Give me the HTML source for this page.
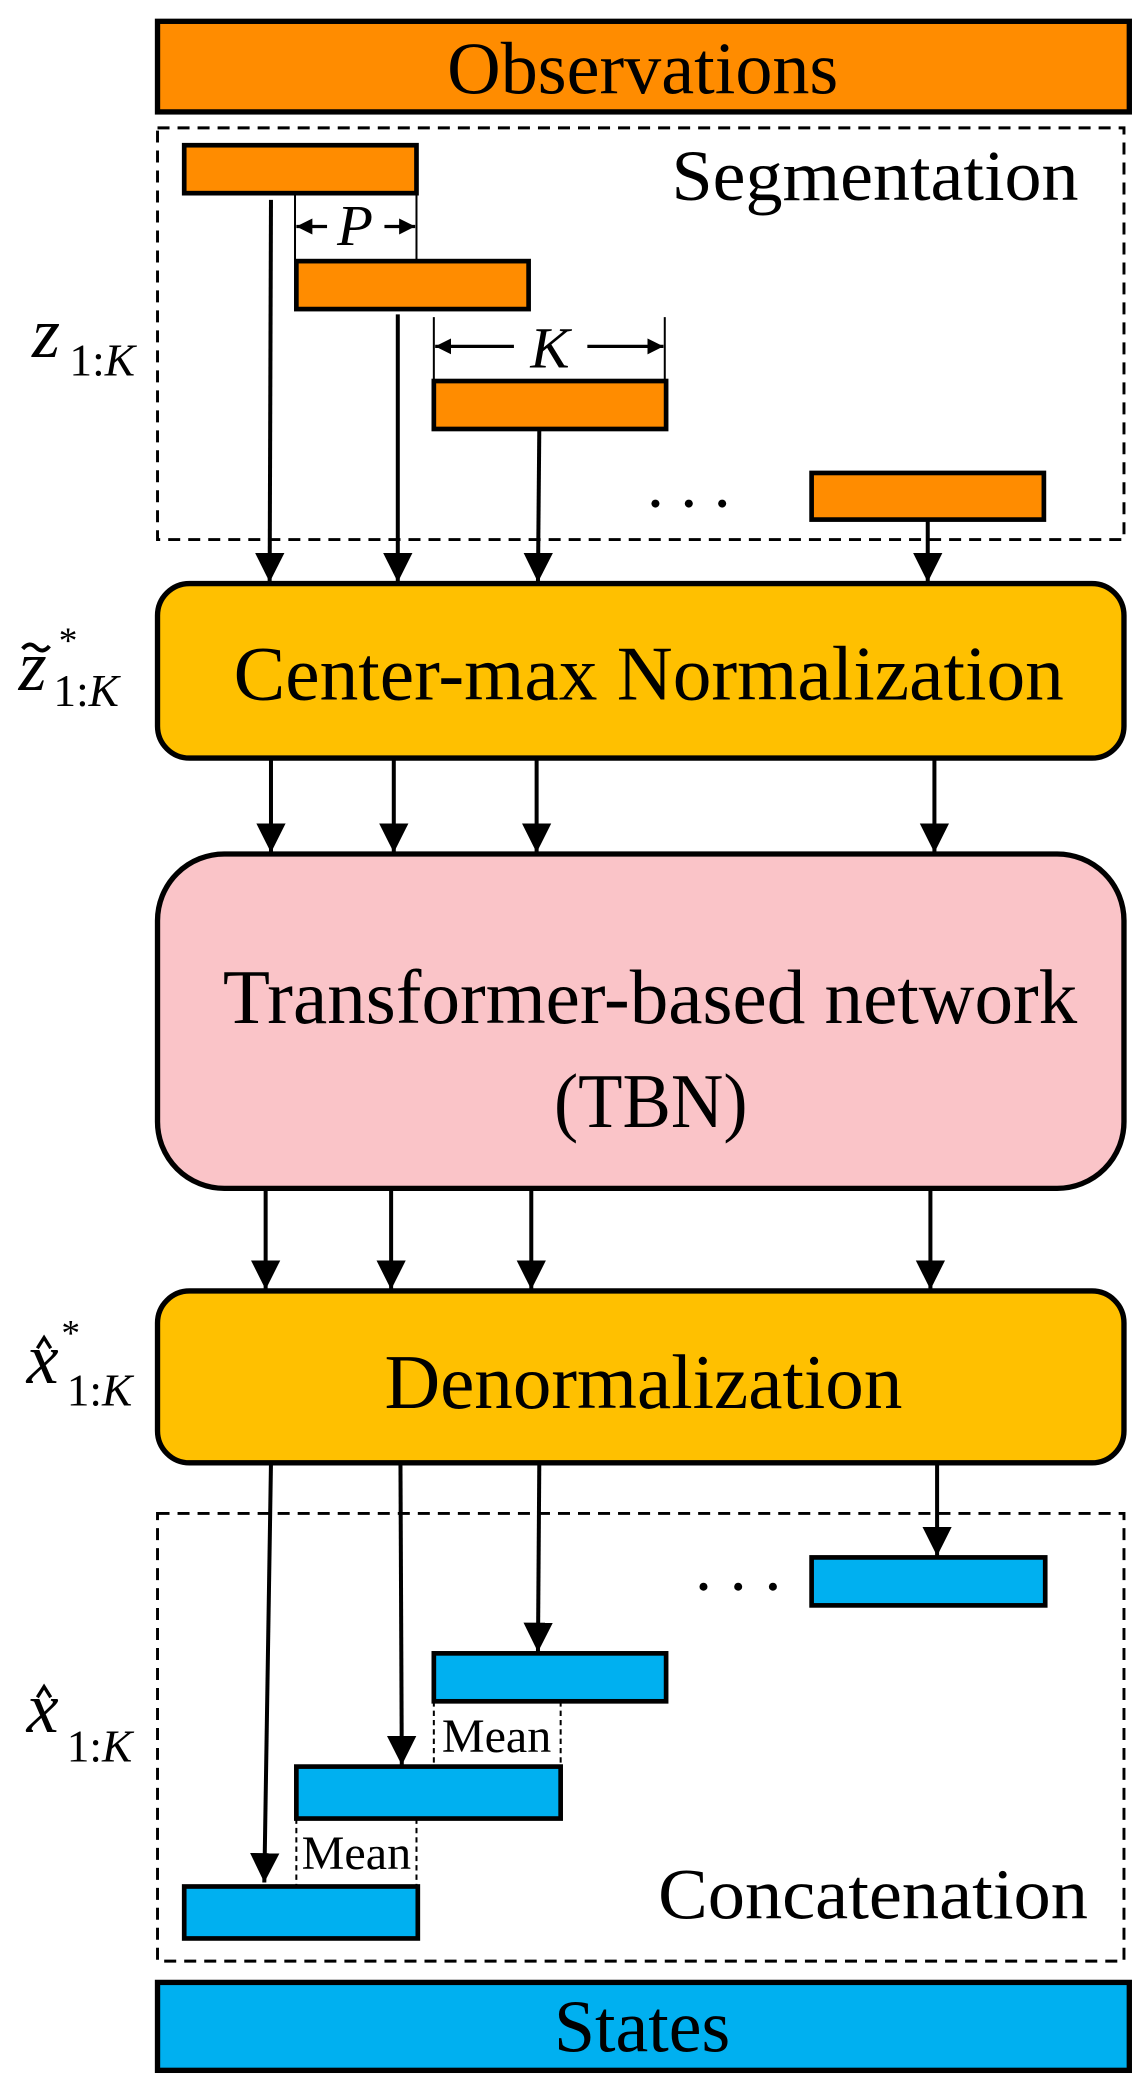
<!DOCTYPE html>
<html><head><meta charset="utf-8"><style>html,body{margin:0;padding:0;background:#fff}svg{display:block}</style></head>
<body>
<svg width="1148" height="2089" viewBox="0 0 860 1568" preserveAspectRatio="none" xmlns="http://www.w3.org/2000/svg" font-family="Liberation Serif, serif">
<defs>
<marker id="a" viewBox="0 0 10 10" refX="10" refY="5" markerWidth="12" markerHeight="12" orient="auto" markerUnits="userSpaceOnUse"><path d="M0,0 L10,5 L0,10 z" fill="#000"/></marker>
<marker id="b" viewBox="0 0 10 10" refX="10" refY="5" markerWidth="22" markerHeight="22" orient="auto" markerUnits="userSpaceOnUse"><path d="M0,0 L10,5 L0,10 z" fill="#000"/></marker>
</defs>
<!-- Observations -->
<rect x="118" y="16" width="728" height="68" fill="#FF8C00" stroke="#000" stroke-width="4"/>
<text x="335" y="70" font-size="56" textLength="293" lengthAdjust="spacingAndGlyphs">Observations</text>
<!-- Segmentation box -->
<rect x="118" y="96" width="724" height="309" fill="none" stroke="#000" stroke-width="2.2" stroke-dasharray="9,6"/>
<text x="503" y="150" font-size="54" textLength="305" lengthAdjust="spacingAndGlyphs">Segmentation</text>
<g fill="#FF8C00" stroke="#000" stroke-width="3.5">
<rect x="138" y="109" width="174" height="36"/>
<rect x="222" y="196" width="174" height="36"/>
<rect x="325" y="286" width="174" height="36"/>
<rect x="608" y="355" width="174" height="35"/>
</g>
<!-- P dim -->
<g stroke="#000" stroke-width="1.5"><line x1="221" y1="145" x2="221" y2="196"/><line x1="312" y1="145" x2="312" y2="196"/></g>
<line x1="245" y1="170" x2="222" y2="170" stroke="#000" stroke-width="2.5" marker-end="url(#a)"/>
<line x1="288" y1="170" x2="311" y2="170" stroke="#000" stroke-width="2.5" marker-end="url(#a)"/>
<text x="266" y="184" font-size="44" font-style="italic" text-anchor="middle">P</text>
<!-- K dim -->
<g stroke="#000" stroke-width="1.5"><line x1="325" y1="238" x2="325" y2="286"/><line x1="498" y1="238" x2="498" y2="286"/></g>
<line x1="385" y1="260" x2="326" y2="260" stroke="#000" stroke-width="2.5" marker-end="url(#a)"/>
<line x1="440" y1="260" x2="497" y2="260" stroke="#000" stroke-width="2.5" marker-end="url(#a)"/>
<text x="412" y="276" font-size="44" font-style="italic" text-anchor="middle">K</text>
<g fill="#000"><circle cx="491" cy="378" r="3"/><circle cx="516" cy="378" r="3"/><circle cx="541" cy="378" r="3"/></g>
<!-- arrows into CMN -->
<g stroke="#000" stroke-width="3" marker-end="url(#b)">
<line x1="203" y1="150" x2="202" y2="437"/>
<line x1="298" y1="236" x2="298" y2="437"/>
<line x1="404" y1="322" x2="403" y2="437"/>
<line x1="695" y1="390" x2="695" y2="437"/>
</g>
<text x="24" y="268" font-size="54" font-style="italic">z</text>
<text x="52" y="282" font-size="34">1:<tspan font-style="italic">K</tspan></text>
<!-- CMN -->
<rect x="118" y="438" width="724" height="131" rx="24" fill="#FFC000" stroke="#000" stroke-width="4"/>
<text x="175" y="525" font-size="58" textLength="622" lengthAdjust="spacingAndGlyphs">Center-max Normalization</text>
<text x="14" y="518" font-size="54" font-style="italic">z</text>
<path d="M17,487 q5,-6 10,-1 q5,5 10,-1" fill="none" stroke="#000" stroke-width="3"/>
<text x="44" y="490" font-size="28">*</text>
<text x="40" y="530" font-size="34">1:<tspan font-style="italic">K</tspan></text>
<g stroke="#000" stroke-width="3" marker-end="url(#b)">
<line x1="203" y1="569" x2="203" y2="640"/>
<line x1="295" y1="569" x2="295" y2="640"/>
<line x1="402" y1="569" x2="402" y2="640"/>
<line x1="700" y1="569" x2="700" y2="640"/>
</g>
<!-- TBN -->
<rect x="118" y="641" width="724" height="251" rx="50" fill="#FAC4C8" stroke="#000" stroke-width="4"/>
<text x="167" y="768" font-size="58" textLength="640" lengthAdjust="spacingAndGlyphs">Transformer-based network</text>
<text x="415" y="846" font-size="58" textLength="145" lengthAdjust="spacingAndGlyphs">(TBN)</text>
<g stroke="#000" stroke-width="3" marker-end="url(#b)">
<line x1="199" y1="892" x2="199" y2="968"/>
<line x1="293" y1="892" x2="293" y2="968"/>
<line x1="398" y1="892" x2="398" y2="968"/>
<line x1="697" y1="892" x2="697" y2="968"/>
</g>
<!-- Denorm -->
<rect x="118" y="969" width="724" height="129" rx="24" fill="#FFC000" stroke="#000" stroke-width="4"/>
<text x="288" y="1057" font-size="58" textLength="388" lengthAdjust="spacingAndGlyphs">Denormalization</text>
<text x="20" y="1038" font-size="54" font-style="italic">x</text>
<path d="M28,1012 l5,-8 l5,8" fill="none" stroke="#000" stroke-width="2.5"/>
<text x="46" y="1010" font-size="28">*</text>
<text x="50" y="1055" font-size="34">1:<tspan font-style="italic">K</tspan></text>
<!-- Concatenation box -->
<rect x="118" y="1136" width="724" height="336" fill="none" stroke="#000" stroke-width="2.2" stroke-dasharray="9,6"/>
<text x="493" y="1440" font-size="54" textLength="322" lengthAdjust="spacingAndGlyphs">Concatenation</text>
<g fill="#000"><circle cx="527" cy="1191" r="3"/><circle cx="553" cy="1191" r="3"/><circle cx="579" cy="1191" r="3"/></g>
<g fill="#00B0F0" stroke="#000" stroke-width="3.5">
<rect x="608" y="1169" width="175" height="36"/>
<rect x="325" y="1241" width="174" height="36"/>
<rect x="222" y="1326" width="198" height="39"/>
<rect x="138" y="1416" width="175" height="39"/>
</g>
<g fill="none" stroke="#000" stroke-width="1.5" stroke-dasharray="4,3">
<line x1="325" y1="1277" x2="325" y2="1326"/><line x1="420" y1="1277" x2="420" y2="1326"/>
<line x1="222" y1="1365" x2="222" y2="1416"/><line x1="312" y1="1365" x2="312" y2="1416"/>
</g>
<text x="331" y="1315" font-size="36" textLength="82" lengthAdjust="spacingAndGlyphs">Mean</text>
<text x="226" y="1403" font-size="36" textLength="82" lengthAdjust="spacingAndGlyphs">Mean</text>
<g stroke="#000" stroke-width="3" marker-end="url(#b)">
<line x1="203" y1="1098" x2="198" y2="1413"/>
<line x1="300" y1="1098" x2="301" y2="1325"/>
<line x1="404" y1="1098" x2="403" y2="1240"/>
<line x1="702" y1="1098" x2="702" y2="1168"/>
</g>
<text x="20" y="1300" font-size="54" font-style="italic">x</text>
<path d="M28,1274 l5,-8 l5,8" fill="none" stroke="#000" stroke-width="2.5"/>
<text x="50" y="1322" font-size="34">1:<tspan font-style="italic">K</tspan></text>
<!-- States -->
<rect x="118" y="1488" width="728" height="66" fill="#00B0F0" stroke="#000" stroke-width="4"/>
<text x="415" y="1540" font-size="56" textLength="132" lengthAdjust="spacingAndGlyphs">States</text>
</svg>
</body></html>
